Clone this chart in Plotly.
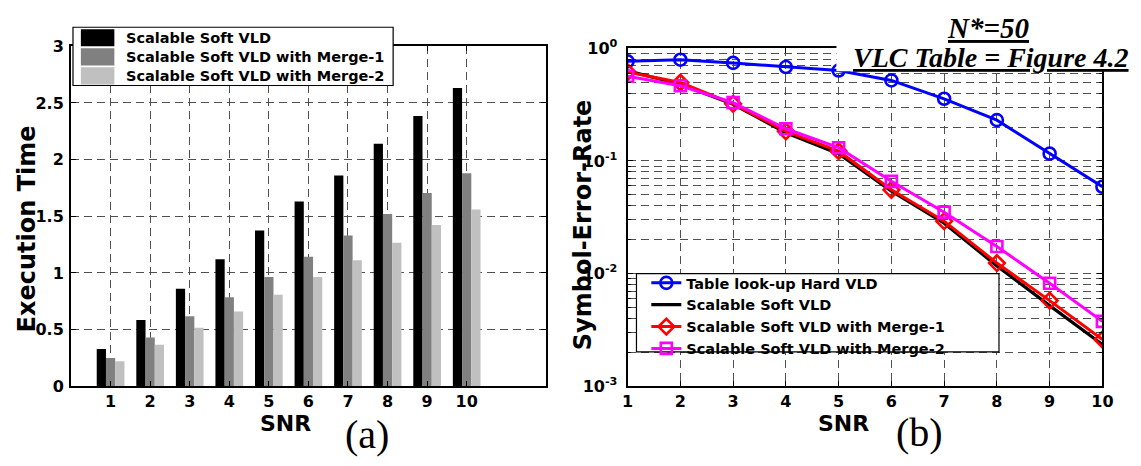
import plotly.graph_objects as go

W, H = 1141, 466

# ---- data -------------------------------------------------------------
snr = list(range(1, 11))

# execution time for each decoder
exec_soft = [0.33, 0.586, 0.86, 1.12, 1.374, 1.63, 1.86, 2.14, 2.386, 2.633]
exec_merge1 = [0.25, 0.43, 0.617, 0.785, 0.965, 1.144, 1.33, 1.52, 1.705, 1.88]
exec_merge2 = [0.22, 0.367, 0.516, 0.66, 0.808, 0.965, 1.112, 1.267, 1.424, 1.56]

# symbol error rate for each decoder
ser_hard = [0.765, 0.791, 0.741, 0.681, 0.634, 0.518, 0.356, 0.230, 0.116, 0.059]
ser_soft = [0.63, 0.48, 0.318, 0.178, 0.116, 0.054, 0.028, 0.0117, 0.0052, 0.00235]
ser_merge1 = [0.615, 0.496, 0.321, 0.183, 0.122, 0.0554, 0.0292, 0.0124, 0.00576, 0.0026]
ser_merge2 = [0.565, 0.465, 0.329, 0.193, 0.131, 0.0659, 0.0351, 0.0174, 0.0082, 0.00377]

bar_names = ["Scalable Soft VLD", "Scalable Soft VLD with Merge-1", "Scalable Soft VLD with Merge-2"]
bar_colors = ["#000000", "#808080", "#c0c0c0"]

line_names = ["Table look-up Hard VLD", "Scalable Soft VLD",
              "Scalable Soft VLD with Merge-1", "Scalable Soft VLD with Merge-2"]

left_yticks = [0, 0.5, 1, 1.5, 2, 2.5, 3]
left_yticklabels = ["0", "0.5", "1", "1.5", "2", "2.5", "3"]
right_yticks = [0.001, 0.01, 0.1, 1]
right_yticklabels = ["10<sup>-3</sup>", "10<sup>-2</sup>", "10<sup>-1</sup>", "10<sup>0</sup>"]


# ---- helpers: pixel -> paper coordinates --------------------------------
def px(x):
    return x / W


def py(y):
    return 1 - y / H


SANS = "DejaVu Sans"
SERIF = "Liberation Serif"
tick_font = dict(family=SANS, size=16, color="black", weight="bold")
GRID = "#505050"
DASH = "8px,5px"

fig = go.Figure()

# ---- (a) execution time bars -------------------------------------------
for name, vals, col in zip(bar_names, [exec_soft, exec_merge1, exec_merge2], bar_colors):
    fig.add_trace(go.Bar(x=snr, y=vals, name=name, marker=dict(color=col, line=dict(width=0)),
                         xaxis="x", yaxis="y", showlegend=False))

# ---- (b) symbol error rate curves --------------------------------------
fig.add_trace(go.Scatter(x=snr, y=ser_hard, name=line_names[0], mode="lines+markers",
                         line=dict(color="#0000ff", width=3),
                         marker=dict(symbol="circle-open", size=12, color="#0000ff", line=dict(width=2.6)),
                         xaxis="x2", yaxis="y2"))
fig.add_trace(go.Scatter(x=snr, y=ser_soft, name=line_names[1], mode="lines",
                         line=dict(color="#000000", width=3.2),
                         xaxis="x2", yaxis="y2"))
fig.add_trace(go.Scatter(x=snr, y=ser_merge1, name=line_names[2], mode="lines+markers",
                         line=dict(color="#ff0000", width=3),
                         marker=dict(symbol="diamond-open", size=12, color="#ff0000", line=dict(width=2.6)),
                         xaxis="x2", yaxis="y2"))
fig.add_trace(go.Scatter(x=snr, y=ser_merge2, name=line_names[3], mode="lines+markers",
                         line=dict(color="#ff00ff", width=3),
                         marker=dict(symbol="square-open", size=11, color="#ff00ff", line=dict(width=2.6)),
                         xaxis="x2", yaxis="y2"))

axis_common = dict(showline=True, linecolor="black", linewidth=2, mirror="ticks",
                   ticks="inside", ticklen=5, tickcolor="black", tickwidth=1,
                   tickfont=tick_font, zeroline=False,
                   showgrid=True, gridcolor=GRID, gridwidth=1, griddash=DASH)

minor_grid = [m * 10.0 ** e for e in (-3, -2, -1) for m in range(2, 10)]

fig.update_layout(
    width=W, height=H, autosize=False,
    margin=dict(l=0, r=0, t=0, b=0),
    paper_bgcolor="white", plot_bgcolor="white",
    barmode="group", bargap=0.3, bargroupgap=0,
    xaxis=dict(domain=[px(66), px(548)], range=[0, 12], tickvals=snr,
               ticklabelstandoff=0, anchor="y", **axis_common),
    yaxis=dict(domain=[py(393), py(37)], range=[0, 3], tickvals=left_yticks,
               ticktext=left_yticklabels, ticklabelstandoff=2, anchor="x", **axis_common),
    xaxis2=dict(domain=[px(631), px(1113)], range=[1, 10], tickvals=snr,
                ticklabelstandoff=0, anchor="y2", **axis_common),
    yaxis2=dict(domain=[py(393), py(39)], type="log", range=[-3, 0],
                tickvals=right_yticks, ticktext=right_yticklabels, ticklabelstandoff=5,
                anchor="x2",
                minor=dict(tickvals=minor_grid, ticks="inside", ticklen=3, tickcolor="black",
                           showgrid=True, gridcolor=GRID, gridwidth=1, griddash=DASH),
                **axis_common),
    legend=dict(x=px(650), y=py(268), xanchor="left", yanchor="top",
                bgcolor="rgba(0,0,0,0)", borderwidth=0, itemwidth=30,
                tracegroupgap=0,
                font=dict(family=SANS, size=14.5, color="black", weight="bold")),
    showlegend=True,
)

shapes = []
# legend frame for (a)
shapes.append(dict(type="rect", xref="paper", yref="paper", layer="above",
                   x0=px(68), x1=px(393), y0=py(78), y1=py(17),
                   fillcolor="white", line=dict(color="black", width=1.2)))
for i, col in enumerate(bar_colors):
    top = 19 + 20 * i
    shapes.append(dict(type="rect", xref="paper", yref="paper", layer="above",
                       x0=px(76), x1=px(110), y0=py(top + 18), y1=py(top),
                       fillcolor=col, line=dict(width=0)))
# legend frame for (b)
shapes.append(dict(type="rect", xref="paper", yref="paper", layer="above",
                   x0=px(640), x1=px(1008), y0=py(357), y1=py(275),
                   fillcolor="white", line=dict(color="black", width=1.2)))
# white backing behind the caption of (b)
shapes.append(dict(type="rect", xref="paper", yref="paper", layer="above",
                   x0=px(843), x1=1, y0=py(63), y1=py(33),
                   fillcolor="white", line=dict(width=0)))
fig.update_layout(shapes=shapes)

ann = []
for i, name in enumerate(bar_names):
    ann.append(dict(text=name, xref="paper", yref="paper", x=px(120), y=py(28 + 20 * i),
                    xanchor="left", yanchor="middle", showarrow=False,
                    font=dict(family=SANS, size=14.5, color="black", weight="bold")))

title_font = dict(family=SANS, size=24, color="black", weight="bold")
snr_font = dict(family=SANS, size=22, color="black", weight="bold")
ann += [
    dict(text="Execution Time", x=px(21), y=py(228), textangle=-90, font=title_font),
    dict(text="SNR", x=px(284), y=py(418), yanchor="top", borderpad=0, font=snr_font),
    dict(text="(a)", x=px(366), y=py(444), font=dict(family=SERIF, size=40, color="black")),
    dict(text="Symbol-Error-Rate", x=px(586), y=py(224), textangle=-90, font=title_font),
    dict(text="SNR", x=px(850), y=py(418), yanchor="top", borderpad=0, font=snr_font),
    dict(text="(b)", x=px(927), y=py(441), font=dict(family=SERIF, size=40, color="black")),
    dict(text="<b><i><u>N*=50</u></i></b>", x=px(997), y=py(18),
         font=dict(family=SERIF, size=29, color="black")),
    dict(text="<b><i><u>VLC Table = Figure 4.2</u></i></b>", x=px(1000), y=py(49),
         font=dict(family=SERIF, size=28, color="black")),
]
for a in ann[len(bar_names):]:
    a.setdefault("yanchor", "middle")
    a.update(xref="paper", yref="paper", xanchor="center", showarrow=False)
fig.update_layout(annotations=ann)

fig.write_html("out.html")
